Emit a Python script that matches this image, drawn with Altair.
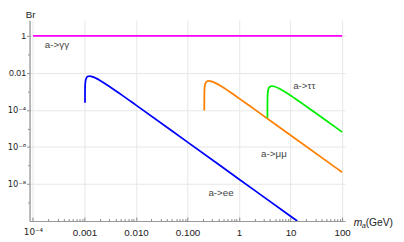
import altair as alt
import pandas as pd

# ---------------- data ----------------
channels = ["a->γγ", "a->ee", "a->μμ", "a->ττ"]
colors = ["#FF00FF", "#0000FF", "#FF8000", "#00EE00"]

gg_m = [1e-4, 1e-2, 1.0, 100.0]
gg_br = [1.0, 1.0, 1.0, 1.0]

ee_m = [0.0010221, 0.001023, 0.001025, 0.00103, 0.00104, 0.00106, 0.0011, 0.00115,
        0.00125, 0.0014, 0.0017, 0.002, 0.003, 0.005, 0.01, 0.1, 1.0, 10.0, 13.5]
ee_br = [2.44e-4, 7.69e-4, 1.325e-3, 2.13e-3, 3.12e-3, 4.30e-3, 5.56e-3, 6.31e-3,
         6.71e-3, 6.35e-3, 5.03e-3, 3.91e-3, 1.90e-3, 7.13e-4, 1.81e-4, 1.82e-6,
         1.82e-8, 1.82e-10, 1.0e-10]

mm_m = [0.21133, 0.2115, 0.212, 0.214, 0.218, 0.225, 0.235, 0.259, 0.29, 0.35,
        0.45, 0.7, 1.0, 2.0, 10.0, 100.0]
mm_br = [9.4e-5, 3.97e-4, 7.66e-4, 1.481e-3, 2.223e-3, 2.917e-3, 3.406e-3, 3.706e-3,
         3.501e-3, 2.798e-3, 1.875e-3, 8.37e-4, 4.20e-4, 1.069e-4, 4.3e-6, 4.3e-8]

tt_m = [3.5538, 3.557, 3.565, 3.6, 3.67, 3.78, 3.95, 4.35, 4.9, 6.0, 8.0, 12.0,
        20.0, 40.0, 100.0]
tt_br = [3.8e-5, 2.179e-4, 4.007e-4, 7.89e-4, 1.187e-3, 1.527e-3, 1.791e-3, 1.951e-3,
         1.835e-3, 1.432e-3, 8.96e-4, 4.245e-4, 1.575e-4, 3.98e-5, 6.4e-6]

label_text = ["a->γγ", "a->ττ", "a->μμ", "a->ee"]
label_m = [2.92e-4, 18.4, 4.75, 0.447]
label_br = [0.314, 2.0e-3, 4.3e-7, 3.2e-9]

x_major = [1e-4, 1e-3, 1e-2, 1e-1, 1.0, 10.0, 100.0]
x_major_labels = ["10⁻⁴", "0.001", "0.010", "0.100", "1", "10", "100"]
x_minor = [k * v for v in [1e-4, 1e-3, 1e-2, 1e-1, 1.0, 10.0] for k in range(2, 10)]

y_major = [1.0, 1e-2, 1e-4, 1e-6, 1e-8]
y_major_labels = ["1", "0.01", "10⁻⁴", "10⁻⁶", "10⁻⁸"]
y_minor = [1e-1, 1e-3, 1e-5, 1e-7, 1e-9]

# ---------------- build tables ----------------
rows = []
for name, ms, bs in zip(channels, [gg_m, ee_m, mm_m, tt_m], [gg_br, ee_br, mm_br, tt_br]):
    for m, b in zip(ms, bs):
        rows.append({"m": m, "br": b, "ch": name})
df = pd.DataFrame(rows)
lab = pd.DataFrame({"t": label_text, "m": label_m, "br": label_br})

FONT = "Liberation Sans"
SUPFONT = "DejaVu Sans"
W, H = 322, 205
x_dom = [10 ** -4.0665, 10 ** 2.057]
y_dom = [1e-10, 10 ** 0.847]


def label_expr(vals, labels):
    expr = "''"
    for v, l in reversed(list(zip(vals, labels))):
        expr = f"datum.value == {v!r} ? '{l}' : ({expr})"
    return expr


def is_major(vals):
    return "indexof([" + ",".join(repr(v) for v in vals) + "], datum.value) >= 0"


SUP_TEST = "datum.value < 0.0005"
label_font = {"condition": {"test": SUP_TEST, "value": SUPFONT}, "value": FONT}

xscale = alt.Scale(type="log", domain=x_dom, nice=False)
yscale = alt.Scale(type="log", domain=y_dom, nice=False)

x_axis_bottom = alt.Axis(
    orient="bottom", values=x_major, labelExpr=label_expr(x_major, x_major_labels),
    grid=True, gridColor="#e6e6e6", ticks=False, domain=True, domainColor="#999999",
    domainWidth=1.2, labelFont=label_font,
    labelFontSize={"condition": {"test": SUP_TEST, "value": 9}, "value": 10},
    labelColor="#222222",
    labelPadding=7, title=None, labelFlush=False, labelOverlap=False)

x_axis_ticks = alt.Axis(
    orient="top", offset=-H, values=x_major + x_minor, labels=False, grid=False,
    domain=False, ticks=True, tickColor="#888888", tickWidth=1,
    tickSize={"condition": {"test": is_major(x_major), "value": 4}, "value": 2.5},
    title=None)

y_axis = alt.Axis(
    orient="left", values=y_major + y_minor, labelExpr=label_expr(y_major, y_major_labels),
    grid=True, gridColor="#e6e6e6",
    gridOpacity={"condition": {"test": is_major(y_major), "value": 1}, "value": 0},
    tickSize={"condition": {"test": is_major(y_major), "value": 3}, "value": 2},
    tickColor="#888888", domainColor="#999999", domainWidth=1.4,
    labelFont=label_font,
    labelFontSize={"condition": {"test": SUP_TEST, "value": 8.5}, "value": 9},
    labelColor="#222222", labelPadding=1,
    title=None, labelOverlap=False, labelFlush=False)

lines = alt.Chart(df).mark_line(strokeWidth=1.8, clip=True, interpolate="monotone").encode(
    x=alt.X("m:Q", scale=xscale, axis=x_axis_bottom),
    y=alt.Y("br:Q", scale=yscale, axis=y_axis),
    color=alt.Color("ch:N", scale=alt.Scale(domain=channels, range=colors), legend=None),
)

labels = alt.Chart(lab).mark_text(font=FONT, fontSize=10, color="#444444",
                                  align="center", baseline="middle").encode(
    x=alt.X("m:Q", scale=xscale, axis=x_axis_ticks),
    y=alt.Y("br:Q", scale=yscale, axis=y_axis),
    text="t:N",
)

one = pd.DataFrame({"k": [0]})
br_title = alt.Chart(one).mark_text(text="Br", font=FONT, fontSize=10, color="#222222",
                                    align="center", baseline="alphabetic").encode(
    x=alt.value(1), y=alt.value(-2.5))
m_title = alt.Chart(one).mark_text(text="m", font=FONT, fontSize=10.5, fontStyle="italic",
                                   color="#222222", align="left", baseline="alphabetic").encode(
    x=alt.value(331), y=alt.value(210))
a_sub = alt.Chart(one).mark_text(text="a", font=FONT, fontSize=7.5, fontStyle="italic",
                                 color="#222222", align="left", baseline="alphabetic").encode(
    x=alt.value(339), y=alt.value(212.5))
gev_title = alt.Chart(one).mark_text(text="(GeV)", font=FONT, fontSize=10.5,
                                     color="#222222", align="left", baseline="alphabetic").encode(
    x=alt.value(343), y=alt.value(210))

chart = alt.layer(lines, labels, br_title, m_title, a_sub, gev_title).resolve_axis(
    x="independent"
).properties(
    width=W, height=H,
    autosize=alt.AutoSizeParams(type="none"),
    padding={"left": 22, "top": 10, "right": 52, "bottom": 19},
    background="white",
).configure_view(stroke=None)

chart.save("out.html", embed_options={"renderer": "svg", "actions": False})
